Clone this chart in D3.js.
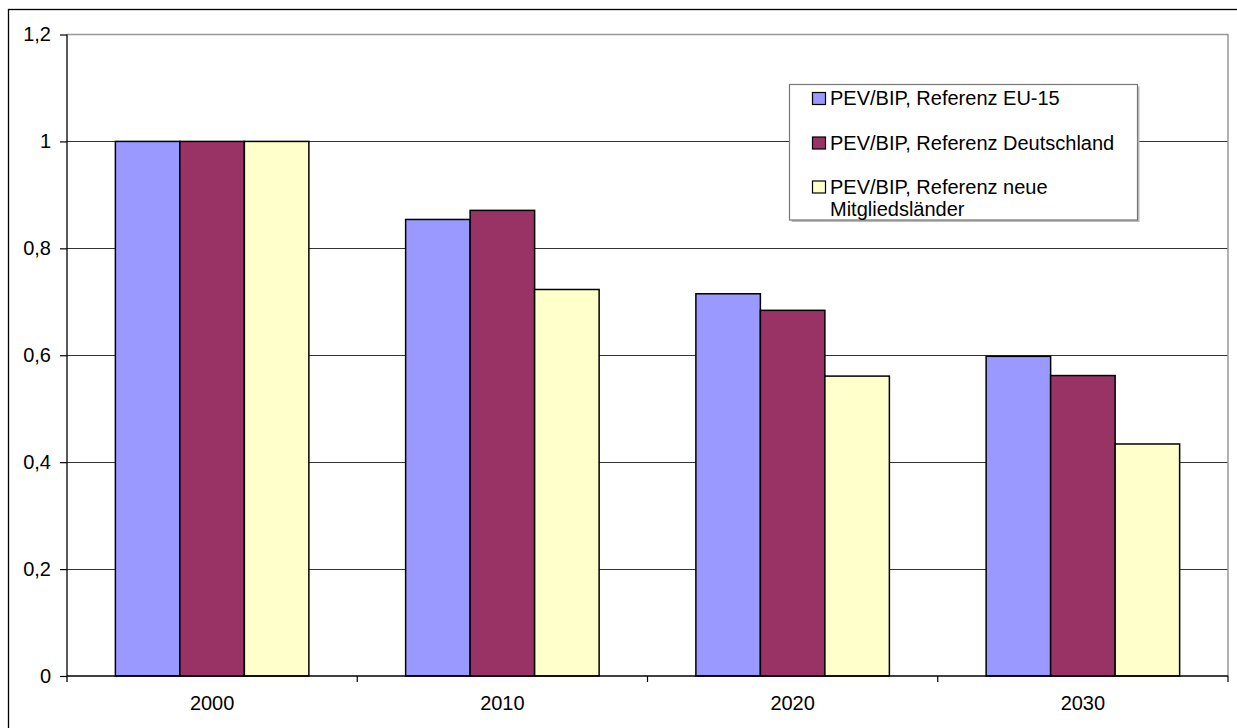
<!DOCTYPE html>
<html>
<head>
<meta charset="utf-8">
<script src="https://cdn.jsdelivr.net/npm/d3@7"></script>
<style>
  html, body { margin: 0; padding: 0; background: #fff; }
  svg { display: block; }
  text { font-family: "Liberation Sans", Arial, sans-serif; fill: #000; }
</style>
</head>
<body>
<svg id="chart" width="1237" height="728"></svg>
<script>
// Jahre (Kategorien)
const years = ["2000", "2010", "2020", "2030"];

// Reihen: Verhältnis PEV/BIP, indexiert auf 2000 = 1
const seriesNames = ["EU-15", "Deutschland", "Neue Mitgliedsländer"];
const valuesEU15 = [1.0, 0.854, 0.715, 0.598];
const valuesDeutschland = [1.0, 0.871, 0.684, 0.562];
const valuesNeueMitglieder = [1.0, 0.723, 0.561, 0.434];

// Achsenbeschriftung der y-Achse
const yTicks = [0, 0.2, 0.4, 0.6, 0.8, 1.0, 1.2];

// Legendentexte (mehrzeilig)
const legendLabels = [
  ["PEV/BIP, Referenz EU-15"],
  ["PEV/BIP, Referenz Deutschland"],
  ["PEV/BIP, Referenz neue", "Mitgliedsländer"]
];

const colors = ["#9999FF", "#993366", "#FFFFCC"];
const seriesValues = [valuesEU15, valuesDeutschland, valuesNeueMitglieder];
const fontSize = "20px";

const svg = d3.select("#chart");
const plot = { left: 67, right: 1228, top: 34.5, bottom: 676 };

const de = d3.formatLocale({ decimal: ",", thousands: ".", grouping: [3], currency: ["", " €"] });
const fmt = de.format(".1~f");

const x = d3.scaleBand().domain(years).range([plot.left, plot.right]).paddingInner(0).paddingOuter(0);
const xs = d3.scaleBand().domain(d3.range(seriesNames.length)).range([0, x.bandwidth()])
  .paddingInner(0).paddingOuter(0.75);
const y = d3.scaleLinear().domain([0, 1.2]).range([plot.bottom, plot.top]);

// Äußerer Diagrammrahmen
svg.append("rect")
  .attr("x", 8.5).attr("y", 9.5).attr("width", 1240).attr("height", 740)
  .attr("fill", "none").attr("stroke", "#000").attr("stroke-width", 1.3);

// Gitterlinien
svg.append("g").selectAll("line")
  .data(yTicks.filter(t => t > 0 && t < 1.2))
  .join("line")
  .attr("x1", plot.left).attr("x2", plot.right)
  .attr("y1", d => Math.round(y(d)) + 0.5).attr("y2", d => Math.round(y(d)) + 0.5)
  .attr("stroke", "#333").attr("stroke-width", 1);

// Zeichenflächenrahmen (oben und rechts, grau)
svg.append("path")
  .attr("d", `M${plot.left},${y(1.2)}H${plot.right}V${plot.bottom}`)
  .attr("fill", "none").attr("stroke", "#999").attr("stroke-width", 1.5);

// Balken
const groups = svg.append("g").selectAll("g")
  .data(seriesValues)
  .join("g")
  .attr("fill", (d, i) => colors[i]);

groups.selectAll("rect")
  .data((vals, si) => vals.map((v, yi) => ({ v, yi, si })))
  .join("rect")
  .attr("x", d => x(years[d.yi]) + xs(d.si))
  .attr("y", d => y(d.v))
  .attr("width", xs.bandwidth())
  .attr("height", d => y(0) - y(d.v))
  .attr("stroke", "#000").attr("stroke-width", 1.5);

// y-Achse
const yAxis = svg.append("g")
  .attr("transform", `translate(${plot.left},0)`)
  .call(d3.axisLeft(y).tickValues(yTicks).tickFormat(fmt).tickSize(7).tickSizeOuter(0).tickPadding(9));
yAxis.select(".domain").attr("stroke", "#000").attr("stroke-width", 1.3)
  .attr("d", `M0,${plot.top}V${plot.bottom + 6}`);
yAxis.selectAll(".tick line").attr("stroke", "#000").attr("stroke-width", 1.2);
yAxis.selectAll(".tick text").style("font-size", fontSize).attr("fill", "#000")
  .attr("font-family", null);

// x-Achse
const xAxis = svg.append("g")
  .attr("transform", `translate(0,${plot.bottom})`)
  .call(d3.axisBottom(x).tickSize(0).tickPadding(20).tickSizeOuter(0));
xAxis.select(".domain").attr("stroke", "#000").attr("stroke-width", 1.3)
  .attr("d", `M${plot.left},0H${plot.right}`);
xAxis.selectAll(".tick text").style("font-size", fontSize).attr("fill", "#000")
  .attr("font-family", null);

// Teilstriche an den Kategoriegrenzen
const bounds = years.map(yr => x(yr)).concat([x(years[years.length - 1]) + x.bandwidth()]).slice(1);
xAxis.append("g").selectAll("line")
  .data(bounds)
  .join("line")
  .attr("x1", d => d).attr("x2", d => d)
  .attr("y1", 0).attr("y2", 6)
  .attr("stroke", "#000").attr("stroke-width", 1.2);

// Legende
const legend = svg.append("g");
const lg = { x: 789.5, y: 84.5, w: 348, h: 135.5 };
legend.append("rect")
  .attr("x", lg.x + 2).attr("y", lg.y + 2).attr("width", lg.w).attr("height", lg.h)
  .attr("fill", "#bbb");
legend.append("rect")
  .attr("x", lg.x).attr("y", lg.y).attr("width", lg.w).attr("height", lg.h)
  .attr("fill", "#fff").attr("stroke", "#777").attr("stroke-width", 1.2);

const baselines = [105, 149.5, 193.5];
legendLabels.forEach((lines, i) => {
  const item = legend.append("g");
  item.append("rect")
    .attr("x", 812.5).attr("y", baselines[i] - 12.5)
    .attr("width", 13).attr("height", 12)
    .attr("fill", colors[i]).attr("stroke", "#000").attr("stroke-width", 1.2);
  const t = item.append("text")
    .attr("x", 830).attr("y", baselines[i])
    .style("font-size", fontSize);
  lines.forEach((ln, j) => {
    t.append("tspan").attr("x", 830).attr("dy", j === 0 ? 0 : 22).text(ln);
  });
});
</script>
</body>
</html>
